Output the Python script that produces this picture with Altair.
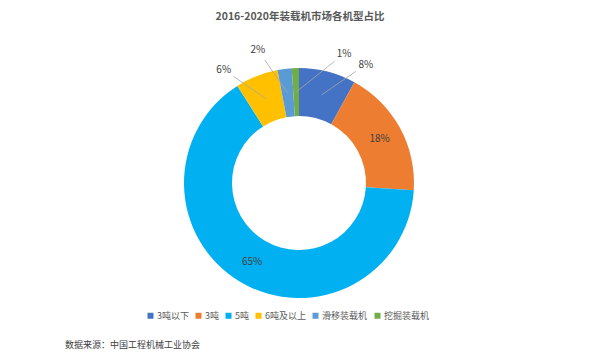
import math
import altair as alt
import pandas as pd

# ---- data ----
categories = ["3吨以下", "3吨", "5吨", "6吨及以上", "滑移装载机", "挖掘装载机"]
shares = [8, 18, 65, 6, 2, 1]
colors = ["#4472C4", "#ED7D31", "#00B0F0", "#FFC000", "#5B9BD5", "#70AD47"]
title_text = "2016-2020年装载机市场各机型占比"
source_text = "数据来源：中国工程机械工业协会"

# ---- layout (label placement, not data) ----
label_nudge_deg = [15, 0, 0, -12, -10, 21]
label_radius = [136, 92, 92, 136, 139, 137]
outside = [True, False, False, True, True, True]

W, H = 584, 342
CX, CY = 291, 175
R_OUT, R_IN = 115, 67
R_MID = (R_OUT + R_IN) / 2
FONT = "Noto Sans CJK SC"

df = pd.DataFrame({"cat": categories, "value": shares, "idx": range(len(categories))})
total = df["value"].sum()
cum = df["value"].cumsum()
mid = (cum - df["value"] / 2) / total * 360.0
df["label"] = [f"{v}%" for v in shares]
la = [math.radians(m + n) for m, n in zip(mid, label_nudge_deg)]
ma = [math.radians(m) for m in mid]
df["lx"] = [r * math.sin(a) for r, a in zip(label_radius, la)]
df["ly"] = [r * math.cos(a) for r, a in zip(label_radius, la)]
df["ix"] = [R_MID * math.sin(a) for a in ma]
df["iy"] = [R_MID * math.cos(a) for a in ma]
ox, oy = [], []
for lx, ly, ix, iy in zip(df["lx"], df["ly"], df["ix"], df["iy"]):
    d = math.hypot(ix - lx, iy - ly)
    ox.append(lx + (ix - lx) / d * 12)
    oy.append(ly + (iy - ly) / d * 12)
df["ox"] = ox
df["oy"] = oy
df["outside"] = outside

xs = alt.Scale(domain=[-CX, W - CX], nice=False, zero=False)
ys = alt.Scale(domain=[-(H - CY), CY], nice=False, zero=False)

arcs = alt.Chart(df).mark_arc(innerRadius=R_IN, outerRadius=R_OUT).encode(
    theta=alt.Theta("value:Q", stack=True),
    order=alt.Order("idx:Q"),
    color=alt.Color(
        "cat:N",
        scale=alt.Scale(domain=categories, range=colors),
        sort=categories,
        legend=alt.Legend(
            orient="none", legendX=138, legendY=303, direction="horizontal",
            title=None, symbolType="square", symbolSize=36, symbolStrokeWidth=0,
            labelFontSize=9, labelFont=FONT, labelColor="#595959",
            columnPadding=5, labelOffset=2,
        ),
    ),
    x=alt.value(CX),
    y=alt.value(CY),
)

leaders = alt.Chart(df).transform_filter("datum.outside").mark_rule(
    color="#A6A6A6", strokeWidth=0.8
).encode(
    x=alt.X("ix:Q", scale=xs, axis=None),
    y=alt.Y("iy:Q", scale=ys, axis=None),
    x2="ox:Q",
    y2="oy:Q",
)

labels = alt.Chart(df).mark_text(
    font=FONT, fontSize=10, color="#404040", align="center", baseline="middle"
).encode(
    x=alt.X("lx:Q", scale=xs, axis=None),
    y=alt.Y("ly:Q", scale=ys, axis=None),
    text="label:N",
)

title = alt.Chart(pd.DataFrame({"t": [title_text]})).mark_text(
    font=FONT, fontSize=10.5, fontWeight="bold", color="#595959",
    align="center", baseline="middle",
).encode(text="t:N", x=alt.value(292), y=alt.value(9))

source = alt.Chart(pd.DataFrame({"t": [source_text]})).mark_text(
    font=FONT, fontSize=9, color="#404040", align="left", baseline="middle",
).encode(text="t:N", x=alt.value(57), y=alt.value(337))

chart = alt.layer(arcs, leaders, labels, title, source).properties(
    width=W, height=H, autosize=alt.AutoSizeParams(type="none"), padding=0,
    background="white",
).configure_view(stroke=None)

chart.save("out.html", embed_options={"renderer": "svg", "actions": False})
